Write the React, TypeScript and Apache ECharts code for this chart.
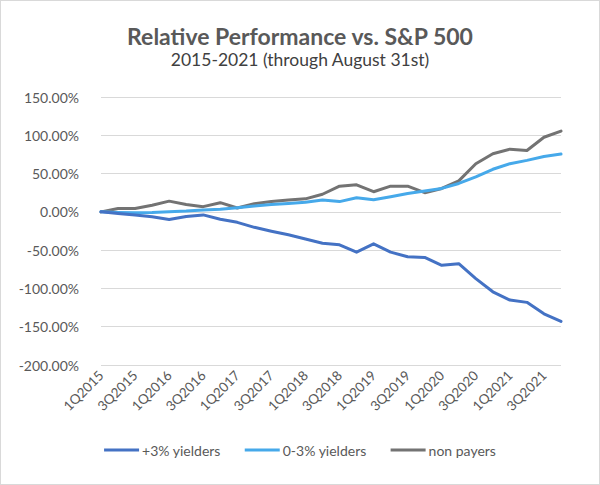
import React, { useEffect, useRef } from "react";
import * as echarts from "echarts";

const categories = [
  "1Q2015", "2Q2015", "3Q2015", "4Q2015",
  "1Q2016", "2Q2016", "3Q2016", "4Q2016",
  "1Q2017", "2Q2017", "3Q2017", "4Q2017",
  "1Q2018", "2Q2018", "3Q2018", "4Q2018",
  "1Q2019", "2Q2019", "3Q2019", "4Q2019",
  "1Q2020", "2Q2020", "3Q2020", "4Q2020",
  "1Q2021", "2Q2021", "3Q2021", "4Q2021",
];

const highYielders = [
  0, -2, -4, -6.5, -10, -6, -4, -9.7, -13.7, -20.2, -25.3, -30, -35.5, -41,
  -43, -52.6, -41.8, -52.6, -58.6, -59.5, -69.8, -67.7, -87.2, -104.4, -115.2,
  -118.2, -133.2, -143.1,
];

const lowYielders = [
  0, -0.8, -1.2, -0.8, 0.2, 1, 2.5, 3.5, 5.5, 7.5, 9.5, 11, 12.5, 15.5, 13.4,
  18.5, 15.9, 19.8, 24.1, 27.2, 30.6, 37.1, 45.7, 55.6, 62.9, 67.2, 72.4, 75.5,
];

const nonPayers = [
  0, 4.3, 4.3, 8.6, 14, 9.5, 6.8, 12, 5.1, 10.5, 13.5, 15.5, 17, 23, 33.5, 35.3,
  26.3, 33.6, 33.6, 25, 30.6, 40.5, 62.9, 75.9, 81.9, 80.2, 97.4, 105.5,
];

const seriesNames = ["+3% yielders", "0-3% yielders", "non payers"];
const seriesColors = ["#4472C4", "#46A9EA", "#737373"];

export default function App() {
  const ref = useRef<HTMLDivElement>(null);

  useEffect(() => {
    if (!ref.current) return;
    const chart = echarts.init(ref.current, null, { renderer: "svg" });
    const font = "Lato, 'Noto Sans', sans-serif";
    const dataSets = [highYielders, lowYielders, nonPayers];
    chart.setOption({
      animation: false,
      backgroundColor: "#ffffff",
      title: {
        text: "Relative Performance vs. S&P 500",
        subtext: "2015-2021 (through August 31st)",
        left: "center",
        top: 18,
        itemGap: 3,
        textStyle: {
          fontFamily: font,
          fontSize: 23,
          fontWeight: "bold",
          color: "#595959",
        },
        subtextStyle: {
          fontFamily: font,
          fontSize: 17.5,
          color: "#404040",
        },
      },
      legend: {
        bottom: 22,
        left: "center",
        icon: "rect",
        itemWidth: 35,
        itemHeight: 3,
        itemGap: 24,
        data: seriesNames,
        textStyle: { fontFamily: font, fontSize: 14, color: "#595959", padding: [0, 0, 0, -2] },
      },
      grid: { left: 100, right: 38, top: 96, bottom: 119, containLabel: false },
      xAxis: {
        type: "category",
        data: categories,
        boundaryGap: false,
        axisLine: { show: false },
        axisTick: { show: false },
        axisLabel: {
          interval: 1,
          rotate: 45,
          margin: 8,
          fontFamily: font,
          fontSize: 13.5,
          color: "#595959",
        },
        splitLine: { show: false },
      },
      yAxis: {
        type: "value",
        min: -200,
        max: 150,
        interval: 50,
        axisLine: { show: false },
        axisTick: { show: false },
        axisLabel: {
          margin: 22,
          fontFamily: font,
          fontSize: 14,
          color: "#595959",
          formatter: (v: number) => v.toFixed(2) + "%",
        },
        splitLine: { lineStyle: { color: "#d9d9d9", width: 1 } },
      },
      series: seriesNames.map((name, i) => ({
        name,
        type: "line",
        data: dataSets[i],
        symbol: "none",
        smooth: false,
        color: seriesColors[i],
        lineStyle: { width: 3, color: seriesColors[i], cap: "round", join: "round" },
        z: i === 0 ? 3 : i === 1 ? 2 : 1,
      })),
    });
    return () => chart.dispose();
  }, []);

  return (
    <div
      style={{
        position: "fixed",
        left: 0,
        top: 0,
        width: 600,
        height: 485,
        boxSizing: "border-box",
        border: "1px solid #d9d9d9",
        background: "#fff",
      }}
    >
      <div ref={ref} style={{ width: 598, height: 483 }} />
    </div>
  );
}
